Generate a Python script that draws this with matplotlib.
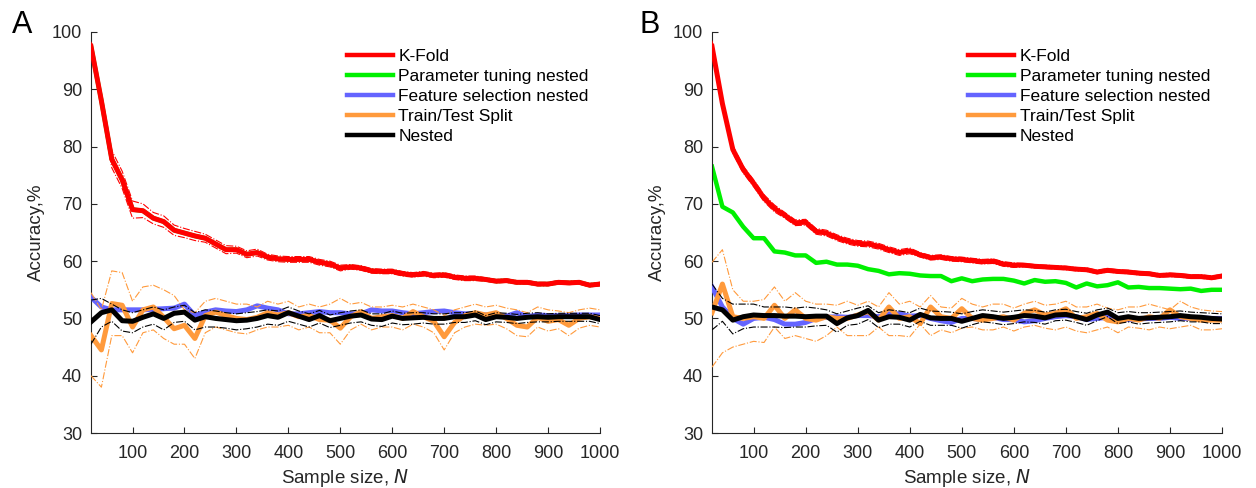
import numpy as np
import matplotlib
matplotlib.use('Agg')
import matplotlib.pyplot as plt

plt.rcParams['font.family'] = ['Liberation Sans', 'DejaVu Sans']

# sample sizes
N = list(range(20, 1001, 20))

# ---------------- panel A ----------------
a_kfold = [97.5, 88.0, 77.8, 74.2, 69.0, 68.8, 67.5, 66.9, 65.4, 64.9,
           64.4, 64.0, 63.0, 62.0, 62.0, 61.2, 61.5, 60.7, 60.4, 60.3,
           60.3, 60.3, 59.8, 59.5, 58.8, 59.0, 58.8, 58.3, 58.2, 58.2,
           57.8, 57.6, 57.8, 57.5, 57.6, 57.2, 57.0, 57.0, 56.8, 56.5,
           56.6, 56.3, 56.3, 56.0, 56.0, 56.3, 56.2, 56.3, 55.8, 56.0]
a_kfold_hw = [0.8, 1.2, 1.5, 1.5, 1.5, 1.2, 1.0, 1.0, 0.9, 0.8,
              0.8, 0.7, 0.7, 0.7, 0.6, 0.6, 0.6, 0.5, 0.5, 0.5,
              0.5, 0.5, 0.5, 0.5, 0.5, 0.4, 0.4, 0.4, 0.4, 0.4,
              0.4, 0.4, 0.4, 0.4, 0.4, 0.4, 0.4, 0.4, 0.3, 0.3,
              0.3, 0.3, 0.3, 0.3, 0.3, 0.3, 0.3, 0.3, 0.3, 0.3]
# parameter tuning nested is hidden under K-Fold in panel A
a_param = a_kfold
a_feat = [53.7, 52.0, 51.5, 51.5, 51.5, 51.5, 51.6, 51.7, 51.8, 52.5,
          50.5, 51.1, 51.5, 51.3, 51.2, 51.5, 52.2, 51.8, 51.5, 50.8,
          50.8, 51.0, 51.2, 51.0, 51.0, 50.8, 50.8, 51.5, 51.3, 51.3,
          51.0, 50.8, 51.0, 51.2, 51.3, 51.0, 50.8, 50.8, 50.6, 50.6,
          50.4, 51.0, 50.3, 50.6, 50.5, 50.5, 50.5, 50.6, 50.6, 50.6]
a_split = [47.0, 44.5, 52.6, 52.3, 48.5, 51.5, 52.0, 50.2, 48.2, 48.8,
           46.5, 50.5, 51.1, 50.5, 50.0, 49.8, 50.2, 51.0, 50.6, 51.0,
           50.3, 50.5, 49.8, 49.7, 48.3, 50.3, 51.2, 50.0, 50.3, 50.5,
           50.0, 51.2, 50.3, 49.5, 46.8, 49.3, 50.5, 51.0, 50.6, 51.0,
           50.0, 48.8, 48.5, 50.2, 49.5, 49.8, 48.8, 50.0, 50.3, 50.0]
a_split_hi = [54.5, 51.5, 58.3, 58.0, 53.0, 55.5, 55.8, 55.0, 54.0, 51.5,
              51.0, 53.0, 53.5, 53.0, 52.5, 52.5, 52.0, 53.0, 52.5, 53.0,
              52.0, 52.5, 52.0, 52.5, 53.5, 52.5, 52.8, 52.0, 52.0, 52.3,
              52.0, 52.5, 52.0, 51.5, 50.5, 51.5, 52.0, 52.5, 52.0, 52.3,
              51.8, 51.5, 51.0, 52.0, 51.5, 51.3, 51.0, 51.5, 51.8, 51.5]
a_split_lo = [40.0, 38.0, 47.0, 47.0, 44.0, 47.5, 48.0, 46.5, 45.5, 45.5,
              43.0, 47.5, 48.5, 48.0, 47.5, 47.3, 48.0, 48.5, 48.5, 48.8,
              48.0, 48.5, 47.5, 47.5, 45.5, 48.0, 49.0, 48.0, 48.5, 48.5,
              48.0, 49.0, 48.5, 47.5, 44.5, 47.5, 48.5, 49.0, 48.8, 49.0,
              48.2, 47.0, 46.8, 48.5, 47.8, 48.2, 47.0, 48.3, 48.8, 48.5]
a_nested = [49.4, 51.0, 51.5, 49.6, 49.5, 50.2, 50.8, 50.0, 50.9, 51.1,
            49.7, 50.3, 50.0, 49.8, 49.6, 49.7, 50.0, 50.5, 50.2, 51.0,
            50.4, 49.8, 50.5, 49.6, 50.0, 50.4, 50.6, 49.9, 49.8, 50.4,
            50.0, 50.1, 50.2, 50.0, 50.0, 50.3, 50.3, 50.6, 49.8, 50.3,
            50.2, 50.0, 50.2, 50.3, 50.2, 50.3, 50.3, 50.3, 50.3, 49.8]
a_nested_hi = [53.2, 53.5, 52.5, 51.5, 51.0, 51.5, 52.0, 51.5, 52.0, 52.3,
               51.0, 51.5, 51.3, 51.0, 50.8, 51.0, 51.2, 51.5, 51.3, 52.0,
               51.3, 50.8, 51.4, 50.6, 51.0, 51.3, 51.5, 50.8, 50.8, 51.3,
               50.9, 51.0, 51.0, 50.8, 50.8, 51.0, 51.0, 51.3, 50.5, 51.0,
               50.9, 50.7, 50.9, 51.0, 50.8, 50.9, 50.9, 50.9, 50.9, 50.5]
a_nested_lo = [45.5, 48.5, 49.5, 47.8, 47.5, 48.5, 49.0, 48.0, 49.3, 49.5,
               48.0, 48.5, 48.5, 48.3, 48.0, 48.2, 48.5, 49.0, 48.8, 49.5,
               49.0, 48.5, 49.2, 48.4, 48.8, 49.2, 49.4, 48.8, 48.6, 49.2,
               48.9, 49.0, 49.2, 49.0, 49.0, 49.3, 49.3, 49.6, 48.9, 49.4,
               49.3, 49.1, 49.3, 49.4, 49.4, 49.5, 49.5, 49.5, 49.5, 49.1]

# ---------------- panel B ----------------
b_kfold = [97.5, 87.5, 79.5, 76.0, 73.6, 71.0, 69.2, 68.0, 66.7, 66.8,
           65.2, 64.9, 64.1, 63.5, 63.1, 63.0, 62.6, 62.0, 61.5, 61.8,
           61.1, 60.6, 60.7, 60.4, 60.3, 60.1, 59.9, 60.0, 59.5, 59.3,
           59.3, 59.1, 59.0, 58.9, 58.8, 58.6, 58.5, 58.1, 58.4, 58.2,
           58.1, 57.9, 57.8, 57.5, 57.6, 57.5, 57.3, 57.3, 57.1, 57.4]
b_kfold_hw = [1.0, 0.8, 0.7, 0.6, 0.6, 0.6, 0.6, 0.5, 0.5, 0.5,
              0.5, 0.5, 0.5, 0.5, 0.5, 0.5, 0.5, 0.5, 0.5, 0.5,
              0.4, 0.4, 0.4, 0.4, 0.4, 0.4, 0.4, 0.4, 0.4, 0.4,
              0.3, 0.3, 0.3, 0.3, 0.3, 0.3, 0.3, 0.3, 0.3, 0.3,
              0.3, 0.3, 0.3, 0.3, 0.3, 0.3, 0.3, 0.3, 0.3, 0.3]
b_param = [76.5, 69.5, 68.5, 66.0, 64.0, 64.0, 61.7, 61.5, 61.0, 61.0,
           59.7, 59.9, 59.4, 59.4, 59.2, 58.6, 58.3, 57.7, 57.9, 57.8,
           57.5, 57.4, 57.4, 56.5, 57.0, 56.5, 56.8, 56.9, 56.9, 56.6,
           56.1, 56.7, 56.4, 56.5, 56.2, 55.4, 56.1, 55.6, 55.8, 56.3,
           55.4, 55.5, 55.3, 55.3, 55.2, 55.1, 55.2, 54.8, 55.0, 55.0]
b_feat = [55.5, 52.0, 50.0, 49.0, 50.0, 50.2, 49.8, 49.0, 49.0, 49.3,
          50.0, 50.2, 50.3, 50.2, 50.5, 50.5, 50.3, 50.8, 50.8, 50.4,
          50.5, 50.0, 49.6, 49.3, 50.0, 50.0, 49.8, 50.2, 49.8, 49.8,
          49.4, 49.6, 50.0, 50.3, 50.5, 50.3, 49.8, 50.0, 50.2, 50.0,
          49.8, 49.9, 50.0, 50.0, 50.2, 50.0, 50.0, 50.1, 50.0, 50.0]
b_split = [51.0, 56.0, 50.3, 50.0, 50.3, 50.0, 52.3, 50.0, 51.5, 50.0,
           49.7, 50.3, 50.0, 50.0, 50.6, 51.2, 49.7, 52.0, 50.0, 50.3,
           49.1, 52.0, 50.3, 50.0, 51.7, 50.0, 49.7, 50.0, 50.3, 49.7,
           50.9, 51.5, 50.6, 50.9, 51.7, 50.0, 50.3, 50.9, 49.7, 49.4,
           50.0, 49.7, 50.3, 50.0, 51.5, 50.3, 50.0, 49.7, 49.7, 49.7]
b_split_hi = [59.8, 62.0, 55.0, 53.0, 53.0, 53.3, 55.5, 53.0, 54.5, 53.0,
              52.5, 52.5, 52.3, 53.0, 52.3, 53.0, 52.0, 54.5, 52.5, 53.0,
              52.0, 54.0, 52.0, 51.8, 53.5, 52.5, 52.0, 52.5, 52.5, 51.8,
              52.5, 53.0, 52.3, 52.5, 53.0, 52.0, 52.0, 52.5, 51.8, 51.5,
              52.0, 52.0, 52.5, 52.0, 51.5, 53.0, 52.0, 51.5, 51.3, 51.2]
b_split_lo = [41.5, 44.0, 45.0, 45.5, 46.0, 45.8, 48.5, 46.5, 47.0, 46.5,
              46.0, 47.0, 48.5, 47.0, 47.0, 47.0, 48.5, 47.0, 47.0, 46.8,
              49.0, 47.0, 48.0, 47.5, 48.3, 48.5, 48.0, 48.0, 48.5, 47.8,
              48.5, 48.8, 48.3, 48.0, 48.5, 47.8, 47.5, 48.0, 48.5, 47.5,
              48.5, 48.3, 48.0, 48.5, 48.2, 48.5, 48.8, 48.0, 48.0, 48.2]
b_nested = [52.0, 51.5, 49.7, 50.3, 50.6, 50.5, 50.5, 50.4, 50.4, 50.3,
            50.4, 50.4, 49.1, 50.1, 50.5, 51.4, 49.7, 50.3, 50.2, 49.7,
            50.7, 50.1, 50.0, 50.0, 49.5, 50.0, 50.5, 50.3, 50.0, 50.2,
            50.5, 50.4, 50.1, 50.6, 50.7, 50.3, 49.8, 50.6, 51.1, 50.0,
            50.3, 50.0, 50.1, 50.2, 50.3, 50.5, 50.3, 50.2, 50.0, 49.9]
b_nested_hi = [56.0, 53.5, 52.5, 52.5, 52.5, 52.0, 52.0, 52.0, 51.8, 52.0,
               51.8, 51.5, 50.8, 51.3, 51.8, 52.2, 51.0, 51.5, 51.3, 51.0,
               51.8, 51.3, 51.2, 51.1, 50.8, 51.2, 51.5, 51.3, 51.1, 51.3,
               51.5, 51.4, 51.1, 51.5, 51.6, 51.2, 50.9, 51.5, 51.8, 51.0,
               51.2, 51.0, 51.0, 51.1, 51.2, 51.3, 51.1, 51.0, 50.9, 50.8]
b_nested_lo = [48.0, 49.5, 47.3, 48.2, 48.5, 48.5, 48.5, 48.4, 48.5, 48.5,
               48.7, 48.8, 47.6, 48.8, 49.0, 49.8, 48.4, 49.0, 49.0, 48.5,
               49.5, 48.8, 48.8, 48.8, 48.3, 48.9, 49.4, 49.2, 48.9, 49.1,
               49.4, 49.3, 49.0, 49.6, 49.7, 49.3, 48.8, 49.6, 50.3, 49.1,
               49.4, 49.0, 49.2, 49.3, 49.4, 49.6, 49.4, 49.4, 49.1, 49.1]

labels = ['K-Fold', 'Parameter tuning nested', 'Feature selection nested',
          'Train/Test Split', 'Nested']
RED = '#ff0000'
GREEN = '#00f000'
BLUE = '#6464ff'
ORANGE = '#ff9a3c'
BLACK = '#000000'
AXC = '#262626'


def panel(ax, kfold, kfold_hw, param, feat, split, split_hi, split_lo,
          nested, nested_hi, nested_lo):
    x = np.array(N)
    kf = np.array(kfold)
    hw = np.array(kfold_hw)
    lw = 3.6
    thin = dict(ls='-.', lw=0.8)

    h_param, = ax.plot(x, param, color=GREEN, lw=lw - 0.4, zorder=2)
    ax.plot(x, kf + hw, color=RED, zorder=3, **thin)
    ax.plot(x, kf - hw, color=RED, zorder=3, **thin)
    h_kf, = ax.plot(x, kf, color=RED, lw=lw, zorder=3)
    h_feat, = ax.plot(x, feat, color=BLUE, lw=lw, zorder=4)
    ax.plot(x, split_hi, color=ORANGE, zorder=5, **thin)
    ax.plot(x, split_lo, color=ORANGE, zorder=5, **thin)
    h_split, = ax.plot(x, split, color=ORANGE, lw=lw, zorder=5)
    ax.plot(x, nested_hi, color=BLACK, zorder=6, **thin)
    ax.plot(x, nested_lo, color=BLACK, zorder=6, **thin)
    h_nest, = ax.plot(x, nested, color=BLACK, lw=lw, zorder=7)

    ax.set_xlim(20, 1000)
    ax.set_ylim(30, 100)
    ax.set_xticks(range(100, 1001, 100))
    ax.set_yticks(range(30, 101, 10))
    for s in ['top', 'right']:
        ax.spines[s].set_visible(False)
    for s in ['left', 'bottom']:
        ax.spines[s].set_color(AXC)
        ax.spines[s].set_linewidth(0.8)
    ax.tick_params(direction='in', length=4, width=0.8, color=AXC,
                   labelcolor=AXC, labelsize=13)
    ax.tick_params(axis='x', pad=8.5)
    ax.tick_params(axis='y', pad=6.5)
    ax.set_xlabel('Sample size, $\\it{N}$', fontsize=13.5, color=AXC, labelpad=4)
    ax.set_ylabel('Accuracy,%', fontsize=13.5, color=AXC, labelpad=5)

    leg = ax.legend([h_kf, h_param, h_feat, h_split, h_nest], labels,
                    loc='upper left', bbox_to_anchor=(0.4886, 0.976),
                    frameon=False, fontsize=12.5, handlelength=2.65,
                    handletextpad=0.33, labelspacing=0.28, borderaxespad=0)
    for line in leg.get_lines():
        line.set_linewidth(3.2)


fig = plt.figure(figsize=(12.56, 4.88), dpi=100)
axA = fig.add_axes([91 / 1256, 55 / 488, 509 / 1256, 401 / 488])
axB = fig.add_axes([712 / 1256, 55 / 488, 510 / 1256, 401 / 488])

panel(axA, a_kfold, a_kfold_hw, a_param, a_feat, a_split, a_split_hi,
      a_split_lo, a_nested, a_nested_hi, a_nested_lo)
panel(axB, b_kfold, b_kfold_hw, b_param, b_feat, b_split, b_split_hi,
      b_split_lo, b_nested, b_nested_hi, b_nested_lo)

fig.text(12 / 1256, 1 - 33 / 488, 'A', fontsize=22, va='baseline')
fig.text(640 / 1256, 1 - 33 / 488, 'B', fontsize=22, va='baseline')

fig.savefig('out.png', dpi=100)
